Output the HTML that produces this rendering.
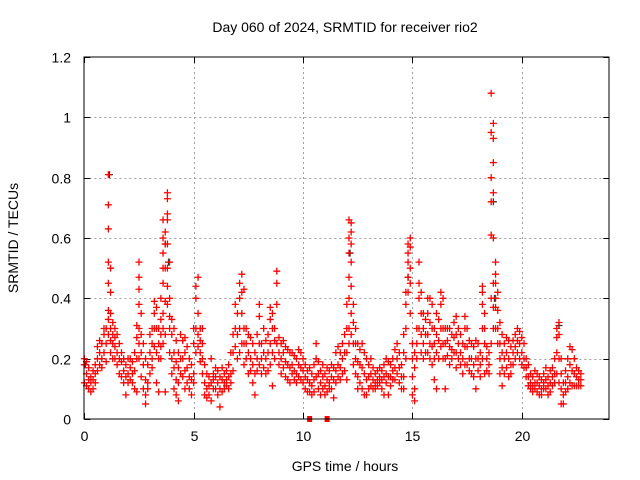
<!DOCTYPE html>
<html><head><meta charset="utf-8">
<style>
html,body{margin:0;padding:0;background:#fff;}
svg{display:block;font-family:"Liberation Sans",Arial,sans-serif;}
</style></head>
<body>
<svg id="chart" width="640" height="480" viewBox="0 0 640 480" xmlns="http://www.w3.org/2000/svg">
<rect x="0" y="0" width="640" height="480" fill="#fff"/>
<g id="grid"></g>
<g id="ticks"></g>
<g id="marks"></g>
<rect x="84" y="57" width="525" height="362" fill="none" stroke="#000" stroke-width="1"/>
<text x="345" y="32" font-size="14" text-anchor="middle">Day 060 of 2024, SRMTID for receiver rio2</text>
<text x="345" y="471" font-size="14" text-anchor="middle">GPS time / hours</text>
<text x="0" y="0" font-size="14" text-anchor="middle" transform="translate(18,238) rotate(-90)">SRMTID / TECUs</text>
</svg>
<script>
const xTicks=[0,5,10,15,20];
const yTicks=[0,0.2,0.4,0.6,0.8,1,1.2];
const yTickLabels=["0","0.2","0.4","0.6","0.8","1","1.2"];
const binTimes=[0.0,0.1,0.2,0.3,0.4,0.5,0.6,0.7,0.8,0.9,1.0,1.1,1.2,1.3,1.4,1.5,1.6,1.7,1.8,1.9,2.0,2.1,2.2,2.3,2.4,2.5,2.6,2.7,2.8,2.9,3.0,3.1,3.2,3.3,3.4,3.5,3.6,3.7,3.8,3.9,4.0,4.1,4.2,4.3,4.4,4.5,4.6,4.7,4.8,4.9,5.0,5.1,5.2,5.3,5.4,5.5,5.6,5.7,5.8,5.9,6.0,6.1,6.2,6.3,6.4,6.5,6.6,6.7,6.8,6.9,7.0,7.1,7.2,7.3,7.4,7.5,7.6,7.7,7.8,7.9,8.0,8.1,8.2,8.3,8.4,8.5,8.6,8.7,8.8,8.9,9.0,9.1,9.2,9.3,9.4,9.5,9.6,9.7,9.8,9.9,10.0,10.1,10.2,10.3,10.4,10.5,10.6,10.7,10.8,10.9,11.0,11.1,11.2,11.3,11.4,11.5,11.6,11.7,11.8,11.9,12.0,12.1,12.2,12.3,12.4,12.5,12.6,12.7,12.8,12.9,13.0,13.1,13.2,13.3,13.4,13.5,13.6,13.7,13.8,13.9,14.0,14.1,14.2,14.3,14.4,14.5,14.6,14.7,14.8,14.9,15.0,15.1,15.2,15.3,15.4,15.5,15.6,15.7,15.8,15.9,16.0,16.1,16.2,16.3,16.4,16.5,16.6,16.7,16.8,16.9,17.0,17.1,17.2,17.3,17.4,17.5,17.6,17.7,17.8,17.9,18.0,18.1,18.2,18.3,18.4,18.5,18.6,18.7,18.8,18.9,19.0,19.1,19.2,19.3,19.4,19.5,19.6,19.7,19.8,19.9,20.0,20.1,20.2,20.3,20.4,20.5,20.6,20.7,20.8,20.9,21.0,21.1,21.2,21.3,21.4,21.5,21.6,21.7,21.8,21.9,22.0,22.1,22.2,22.3,22.4,22.5,22.6,22.7];
const binValues=[
[.12,.18,.2],[.15,.11,.19],[.13,.1,.17],[.12,.14,.09],[.1,.13,.16],[.15,.18,.12],[.2,.16,.24],[.22,.18,.26],[.25,.2,.17],[.28,.22,.3],
[.3,.25,.19],[.36,.45,.52,.63,.71,.81,.33,.28],[.42,.5,.35,.3,.26,.22],[.32,.28,.25,.2],[.3,.24,.2,.27],[.28,.22,.18],[.25,.2,.15],[.19,.14,.22],[.16,.12,.2],[.18,.08,.14],
[.2,.15,.12],[.17,.13,.2],[.19,.12,.15],[.22,.1,.16],[.31,.27,.2,.09],[.52,.47,.43,.38,.3,.25,.2],[.35,.28,.22,.14],[.25,.18,.1],[.2,.13,.05,.08],[.18,.12,.1],
[.22,.28,.15],[.3,.25,.2,.17],[.39,.35,.3,.24],[.37,.3,.22,.12],[.3,.2,.09,.25],[.4,.33,.28,.24,.2],[.66,.6,.55,.5,.45,.35,.3,.25],[.62,.58,.5,.39,.28,.09],[.75,.73,.68,.66,.58,.5,.44,.38],[.52,.4,.34,.3,.22],
[.33,.28,.2,.15],[.3,.22,.17,.1],[.26,.19,.13,.08],[.22,.17,.06,.12],[.28,.2,.15],[.26,.2,.14],[.27,.22,.16,.1],[.24,.17,.12],[.2,.14,.1],[.18,.13,.08],
[.3,.25,.15,.12],[.44,.4,.3,.22],[.47,.35,.28,.24],[.3,.26,.22,.19],[.3,.25,.2,.15],[.18,.12,.08],[.15,.1,.07],[.14,.11,.08],[.2,.12,.06],[.15,.1,.13],
[.14,.1,.17],[.16,.12,.08],[.14,.1,.04],[.17,.13,.09],[.15,.12,.1],[.16,.13,.11],[.18,.14,.1],[.22,.15,.12],[.28,.22,.16],[.38,.3,.24],
[.35,.28,.2],[.45,.4,.3,.22],[.48,.42,.35,.25],[.43,.3,.25,.18],[.3,.25,.2],[.28,.22,.15],[.27,.2,.16],[.25,.18,.12],[.22,.15,.08],[.28,.2,.16],
[.38,.34,.25,.18],[.25,.2,.15],[.3,.22,.17],[.26,.2,.15],[.28,.22,.16],[.37,.33,.25,.18],[.35,.3,.22,.11],[.3,.26,.2],[.49,.45,.38,.25],[.27,.22,.18],
[.25,.2,.15],[.26,.22,.17],[.24,.19,.14],[.23,.18,.13],[.22,.17,.12],[.22,.18,.15],[.21,.16,.13],[.2,.15,.12],[.23,.18,.14],[.22,.17,.13],
[.2,.16,.12],[.18,.14,.1],[.16,.13,.09],[.17,.12,.09,0],[.15,.11,.08],[.18,.13,.09],[.25,.2,.14],[.19,.15,.1],[.16,.12,.08],[.18,.14,.1],
[.15,.11,.08],[.17,.13,.09,0],[.16,.12,.1],[.18,.14,.1],[.17,.13,.07],[.22,.16,.12],[.24,.18,.14],[.22,.17,.13],[.25,.2,.15],[.28,.22,.16],
[.38,.3,.22,.13],[.66,.6,.55,.47,.4,.3,.25],[.65,.62,.58,.52,.44,.35,.28],[.38,.32,.25,.18],[.3,.25,.2,.15],[.25,.19,.14,.1],[.23,.18,.12],[.25,.17,.1],[.22,.15,.08],[.2,.13,.08],
[.18,.14,.1],[.2,.15,.11],[.17,.13,.1],[.15,.12,.1],[.16,.13,.11],[.17,.14,.12],[.16,.13,.1],[.18,.14,.08],[.2,.15,.12],[.19,.14,.08],
[.18,.14,.11],[.2,.16,.13],[.23,.17,.13],[.25,.2,.15],[.22,.17,.12],[.18,.14,.1],[.28,.22,.14,.1],[.42,.38,.3,.2],[.58,.55,.52,.47,.42],[.6,.57,.5,.45,.35],
[.25,.2,.14,.08],[.22,.17,.1,.06],[.3,.25,.2],[.52,.45,.4,.3],[.42,.35,.28,.22],[.35,.3,.25,.2],[.33,.28,.22],[.4,.35,.28,.22],[.4,.32,.25,.2],[.38,.3,.24,.18],
[.3,.25,.2,.13],[.35,.28,.22,.1],[.33,.26,.2],[.42,.38,.3,.24],[.4,.3,.25,.2],[.3,.25,.2,.1],[.3,.26,.21],[.3,.24,.18],[.28,.23,.2],[.32,.27,.22],
[.34,.28,.22,.17],[.3,.25,.2],[.28,.22,.18],[.25,.2,.15],[.34,.3,.24,.18],[.3,.24,.18],[.26,.2,.16],[.25,.2,.15],[.24,.18,.14],[.26,.2,.1],
[.25,.2,.16],[.22,.18,.14],[.44,.42,.38,.3,.2],[.35,.3,.25,.15],[.24,.2,.16],[.22,.18,.15],[1.08,.95,.8,.72,.61,.4,.25],[.98,.93,.85,.75,.6,.45,.37,.3],[.52,.48,.45,.4,.37,.3],[.42,.36,.3,.25],
[.32,.25,.2,.15],[.28,.22,.17,.11],[.25,.2,.15],[.27,.22,.17],[.26,.2,.14],[.24,.18,.15],[.26,.22,.18],[.28,.24,.2],[.3,.26,.22],[.29,.25,.2],
[.27,.22,.18],[.25,.2,.17],[.2,.17,.14],[.18,.14,.11],[.15,.12,.1],[.14,.11,.09],[.16,.12,.1],[.15,.12,.09],[.14,.11,.08],[.13,.1,.08],
[.15,.12,.1],[.17,.13,.1],[.14,.11,.08],[.16,.12,.09],[.17,.14,.11],[.2,.15,.12],[.3,.27,.22,.15],[.32,.28,.2,.12],[.2,.15,.1,.05],[.12,.08,.05],
[.16,.12,.09],[.2,.14,.1],[.24,.18,.12],[.23,.16,.11],[.2,.15,.11],[.17,.14,.11],[.16,.13,.11],[.15,.13,.11]
];
const blackTimes=[0.05,1.15,3.7,3.85,12.15,14.8,18.7,18.75,21.7];
const blackValues=[0.18,0.81,0.58,0.52,0.55,0.47,0.72,0.4,0.31];

const X0=84.3,X1=609.3,Y0=419,Y1=57,XMAX=24,YMAX=1.2;
function xs(t){return X0+(X1-X0)*t/XMAX;}
function ys(v){return Y0-(Y0-Y1)*v/YMAX;}
const NS="http://www.w3.org/2000/svg";
const grid=document.getElementById('grid'),ticks=document.getElementById('ticks'),marks=document.getElementById('marks');
function line(p,x1,y1,x2,y2,st,dash){const l=document.createElementNS(NS,'line');l.setAttribute('x1',x1);l.setAttribute('y1',y1);l.setAttribute('x2',x2);l.setAttribute('y2',y2);l.setAttribute('stroke',st);l.setAttribute('stroke-width',1);if(dash)l.setAttribute('stroke-dasharray',dash);p.appendChild(l);return l;}
function txt(s,x,y,anchor){const t=document.createElementNS(NS,'text');t.setAttribute('x',x);t.setAttribute('y',y);t.setAttribute('font-size','14');t.setAttribute('text-anchor',anchor);t.textContent=s;ticks.appendChild(t);return t;}
xTicks.forEach(function(v){
  const x=Math.round(xs(v))+0.5;
  if(v>0){const g=line(grid,x,Y1,x,Y0,'#a0a0a0','2,3');
  
  }
  const t1=line(ticks,x,Y0,x,Y0-6,'#000');
  
  
  const t2=line(ticks,x,Y1,x,Y1+6,'#000');
  
  
  const lb=txt(String(v),x,441,'middle');
  
  
});
yTicks.forEach(function(v,i){
  const y=Math.round(ys(v))+0.5;
  if(v>0&&v<YMAX){const g=line(grid,X0,y,X1,y,'#a0a0a0','2,3');
  
  }
  const t1=line(ticks,X0,y,X0+6,y,'#000');
  
  
  const t2=line(ticks,X1,y,X1-6,y,'#000');
  
  
  const lb=txt(yTickLabels[i],71,y+5,'end');
  
  
});
function plus(t,v,col){
  const x=xs(t),y=ys(v);
  if(v===0){
    const r=document.createElementNS(NS,'rect');
    r.setAttribute('x',x-2.5);r.setAttribute('y',y-3);r.setAttribute('width',5);r.setAttribute('height',6);
    r.setAttribute('fill',col);marks.appendChild(r);return r;
  }
  const p=document.createElementNS(NS,'path');
  p.setAttribute('d','M'+(x-3.5)+' '+y+'H'+(x+3.5)+'M'+x+' '+(y-3.5)+'V'+(y+3.5));
  p.setAttribute('stroke',col);p.setAttribute('stroke-width','1.3');p.setAttribute('fill','none');
  marks.appendChild(p);return p;
}
blackTimes.forEach(function(t,i){
  const p=plus(t,blackValues[i],'#303030');
  
  
});
binTimes.forEach(function(t,i){
  binValues[i].forEach(function(v){
    const p=plus(t,v,'#ff0000');
    
    
  });
});
</script>
</body></html>
